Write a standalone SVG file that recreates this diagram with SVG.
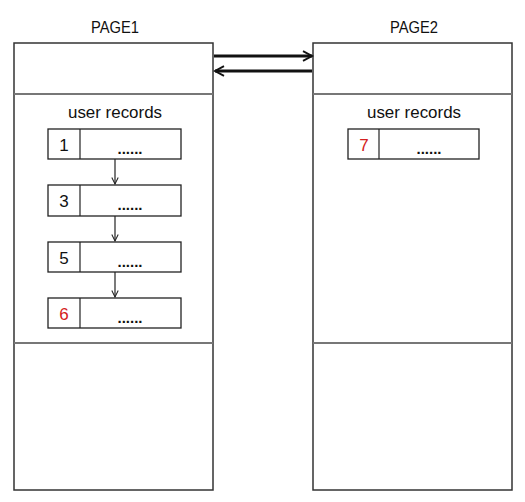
<svg xmlns="http://www.w3.org/2000/svg" width="525" height="502" viewBox="0 0 525 502">
<style>
.box{fill:#fff;stroke:#333;stroke-width:1.5}
.div{stroke:#777;stroke-width:2}
.rec{fill:#fff;stroke:#222;stroke-width:1.3}
.t{font-family:"Liberation Sans",Arial,sans-serif;font-size:17px;fill:#111;text-anchor:middle}
.n{font-family:"Liberation Sans",Arial,sans-serif;font-size:17px;fill:#111;text-anchor:middle}
.red{fill:#d42020}
.dots{font-family:"Liberation Sans",Arial,sans-serif;font-size:15px;font-weight:bold;fill:#111;text-anchor:middle}
.thin{stroke:#222;stroke-width:1.2;fill:none}
.thick{stroke:#111;stroke-width:3;fill:none}
</style>
<defs>
<marker id="ah" viewBox="0 0 10 10" refX="9" refY="5" markerWidth="8" markerHeight="8" markerUnits="userSpaceOnUse" orient="auto">
<path d="M1,1 L9,5 L1,9" fill="none" stroke="#222" stroke-width="1.3"/>
</marker>
<marker id="ahb" viewBox="0 0 10 10" refX="8.5" refY="5" markerWidth="4" markerHeight="4" orient="auto">
<path d="M1,1 L8.5,5 L1,9" fill="none" stroke="#111" stroke-width="1.6"/>
</marker>
</defs>
<g id="page1">
<text class="t" x="115" y="33" textLength="48" lengthAdjust="spacingAndGlyphs">PAGE1</text>
<rect class="box" x="14" y="43" width="199" height="447"/>
<line class="div" x1="14" y1="94" x2="213" y2="94"/>
<line class="div" x1="14" y1="343" x2="213" y2="343"/>
<text class="t" x="115" y="118" textLength="94" lengthAdjust="spacingAndGlyphs">user records</text>
</g>
<g id="page2">
<text class="t" x="414" y="33" textLength="48" lengthAdjust="spacingAndGlyphs">PAGE2</text>
<rect class="box" x="313" y="43" width="199" height="447"/>
<line class="div" x1="313" y1="94" x2="512" y2="94"/>
<line class="div" x1="313" y1="343" x2="512" y2="343"/>
<text class="t" x="414" y="118" textLength="94" lengthAdjust="spacingAndGlyphs">user records</text>
</g>
<g id="rec1">
<rect class="rec" x="48" y="129" width="133" height="30"/>
<line class="thin" x1="80" y1="129" x2="80" y2="159"/>
<text class="n" x="64" y="151">1</text>
<text class="dots" x="130" y="154">......</text>
</g>
<g id="rec3">
<rect class="rec" x="48" y="185" width="133" height="31"/>
<line class="thin" x1="80" y1="185" x2="80" y2="216"/>
<text class="n" x="64" y="207">3</text>
<text class="dots" x="130" y="210">......</text>
</g>
<g id="rec5">
<rect class="rec" x="48" y="242" width="133" height="30"/>
<line class="thin" x1="80" y1="242" x2="80" y2="272"/>
<text class="n" x="64" y="264">5</text>
<text class="dots" x="130" y="267">......</text>
</g>
<g id="rec6">
<rect class="rec" x="48" y="298" width="133" height="30"/>
<line class="thin" x1="80" y1="298" x2="80" y2="328"/>
<text class="n red" x="64" y="320">6</text>
<text class="dots" x="130" y="323">......</text>
</g>
<g id="rec7">
<rect class="rec" x="348" y="129" width="131" height="30"/>
<line class="thin" x1="379" y1="129" x2="379" y2="159"/>
<text class="n red" x="364" y="151">7</text>
<text class="dots" x="429" y="154">......</text>
</g>
<g id="connectors">
<line class="thin" x1="115" y1="159" x2="115" y2="184" marker-end="url(#ah)"/>
<line class="thin" x1="115" y1="216" x2="115" y2="241" marker-end="url(#ah)"/>
<line class="thin" x1="115" y1="272" x2="115" y2="297" marker-end="url(#ah)"/>
<line class="thick" x1="214" y1="56" x2="312" y2="56" marker-end="url(#ahb)"/>
<line class="thick" x1="312" y1="71" x2="215" y2="71" marker-end="url(#ahb)"/>
</g>
</svg>
